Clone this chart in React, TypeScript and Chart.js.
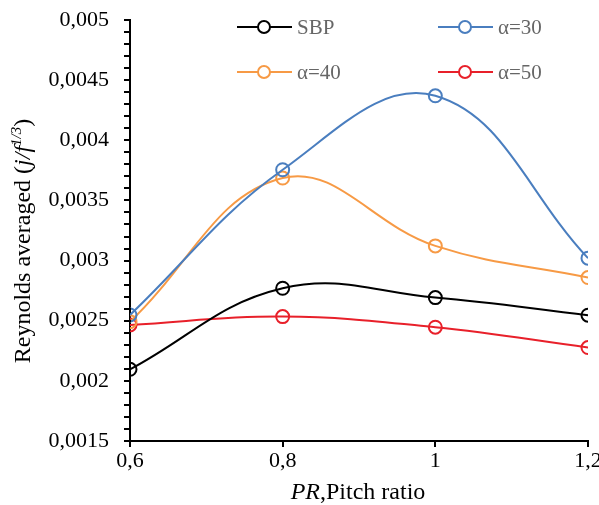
import React, { useEffect, useRef } from "react";
import { Chart, registerables } from "chart.js";

Chart.register(...registerables);

const pitchRatio = [0.6, 0.8, 1.0, 1.2];
const sbp = [0.002096, 0.00277, 0.002692, 0.002546];
const alpha30 = [0.002548, 0.003755, 0.00437, 0.00302];
const alpha40 = [0.002492, 0.003686, 0.003122, 0.002859];
const alpha50 = [0.002465, 0.002534, 0.002446, 0.002277];
const seriesNames = ["SBP", "α=30", "α=40", "α=50"];
const seriesColors = ["#000000", "#4a7ebf", "#f79a45", "#e8202a"];
const yMin = 0.0015;
const yMax = 0.005;
const yMinorStep = 0.0001;
const xMin = 0.6;
const xMax = 1.2;
const xStep = 0.2;

const SERIF = "'Liberation Serif', 'Times New Roman', serif";
const TICK_LEN = 6;

const tickMarksPlugin = {
  id: "tickMarks",
  afterDraw(chart: any) {
    const ctx = chart.ctx;
    const xs = chart.scales.x;
    const ys = chart.scales.y;
    const area = chart.chartArea;
    ctx.save();
    ctx.strokeStyle = "#000000";
    ctx.lineWidth = 2;
    ctx.beginPath();
    for (let v = yMin; v <= yMax + 1e-9; v += yMinorStep) {
      const py = Math.round(ys.getPixelForValue(v));
      ctx.moveTo(area.left - TICK_LEN, py);
      ctx.lineTo(area.left + 1, py);
    }
    for (let v = xMin; v <= xMax + 1e-9; v += xStep) {
      const px = Math.round(xs.getPixelForValue(v));
      ctx.moveTo(px, area.bottom - 1);
      ctx.lineTo(px, area.bottom + TICK_LEN);
    }
    ctx.stroke();
    ctx.restore();
  },
};

const legendPlugin = {
  id: "customLegend",
  afterDraw(chart: any) {
    const ctx = chart.ctx;
    const items = [
      { i: 0, x: 237, y: 27 },
      { i: 1, x: 438, y: 27 },
      { i: 2, x: 237, y: 72 },
      { i: 3, x: 438, y: 72 },
    ];
    ctx.save();
    for (const it of items) {
      const c = seriesColors[it.i];
      ctx.strokeStyle = c;
      ctx.lineWidth = 2;
      ctx.beginPath();
      ctx.moveTo(it.x, it.y);
      ctx.lineTo(it.x + 55, it.y);
      ctx.stroke();
      ctx.beginPath();
      ctx.arc(it.x + 27, it.y, 6, 0, Math.PI * 2);
      ctx.fillStyle = "#ffffff";
      ctx.fill();
      ctx.stroke();
      ctx.fillStyle = "#666666";
      ctx.font = `21px ${SERIF}`;
      ctx.textAlign = "left";
      ctx.textBaseline = "middle";
      ctx.fillText(seriesNames[it.i], it.x + 60, it.y + 1);
    }
    ctx.restore();
  },
};

const titlesPlugin = {
  id: "axisTitles",
  afterDraw(chart: any) {
    const ctx = chart.ctx;
    ctx.save();
    ctx.fillStyle = "#000000";
    ctx.textBaseline = "alphabetic";
    ctx.textAlign = "left";
    const partsX = [
      { t: "PR", f: `italic 24px ${SERIF}` },
      { t: ",Pitch ratio", f: `24px ${SERIF}` },
    ];
    let w = 0;
    for (const p of partsX) {
      ctx.font = p.f;
      w += ctx.measureText(p.t).width;
    }
    let x = 358 - w / 2;
    for (const p of partsX) {
      ctx.font = p.f;
      ctx.fillText(p.t, x, 499);
      x += ctx.measureText(p.t).width;
    }
    const partsY = [
      { t: "Reynolds averaged (", f: `24px ${SERIF}`, dy: 0 },
      { t: "j/f", f: `italic 24px ${SERIF}`, dy: 0 },
      { t: "1/3", f: `italic 15px ${SERIF}`, dy: -9 },
      { t: ")", f: `24px ${SERIF}`, dy: 0 },
    ];
    w = 0;
    for (const p of partsY) {
      ctx.font = p.f;
      w += ctx.measureText(p.t).width;
    }
    ctx.translate(30, 241);
    ctx.rotate(-Math.PI / 2);
    x = -w / 2;
    for (const p of partsY) {
      ctx.font = p.f;
      ctx.fillText(p.t, x, p.dy);
      x += ctx.measureText(p.t).width;
    }
    ctx.restore();
  },
};

export default function App() {
  const ref = useRef<HTMLCanvasElement>(null);
  useEffect(() => {
    if (!ref.current) return;
    const all = [sbp, alpha30, alpha40, alpha50];
    const chart = new Chart(ref.current, {
      type: "line",
      data: {
        datasets: all.map((vals, i) => ({
          label: seriesNames[i],
          data: pitchRatio.map((px, j) => ({ x: px, y: vals[j] })),
          borderColor: seriesColors[i],
          borderWidth: 2,
          pointRadius: 6.5,
          pointBorderWidth: 2,
          pointBackgroundColor: "rgba(0,0,0,0)",
          pointBorderColor: seriesColors[i],
          tension: 0.4,
          fill: false,
        })),
      },
      options: {
        animation: false,
        responsive: false,
        maintainAspectRatio: false,
        layout: { padding: { left: 0, right: 11, top: 20, bottom: 0 } },
        plugins: {
          legend: { display: false },
          tooltip: { enabled: false },
        },
        scales: {
          x: {
            type: "linear",
            min: xMin,
            max: xMax,
            ticks: {
              stepSize: xStep,
              color: "#000000",
              font: { family: SERIF, size: 22 },
              padding: 1,
              callback: (v: any) => String(Math.round(Number(v) * 10) / 10).replace(".", ","),
            },
            grid: {
              display: true,
              drawOnChartArea: false,
              drawTicks: true,
              tickLength: TICK_LEN,
              color: "#000000",
              tickColor: "#000000",
              lineWidth: 2,
              tickWidth: 2,
            },
            border: { display: true, color: "#000000", width: 2 },
            afterFit: (s: any) => {
              s.height = 64;
              s.paddingRight = 0;
              s.paddingLeft = 0;
            },
          },
          y: {
            type: "linear",
            min: yMin,
            max: yMax,
            ticks: {
              stepSize: yMinorStep,
              autoSkip: false,
              color: "#000000",
              font: { family: SERIF, size: 22 },
              padding: 15,
              callback: (v: any) => {
                const n = Math.round(Number(v) * 10000);
                if (n % 5 !== 0) return "";
                return String(n / 10000).replace(".", ",");
              },
            },
            grid: {
              display: true,
              drawOnChartArea: false,
              drawTicks: true,
              tickLength: TICK_LEN,
              color: "#000000",
              tickColor: "#000000",
              lineWidth: 2,
              tickWidth: 2,
            },
            border: { display: true, color: "#000000", width: 2 },
            afterFit: (s: any) => {
              s.width = 130;
              s.paddingTop = 0;
              s.paddingBottom = 0;
            },
          },
        },
      },
      plugins: [tickMarksPlugin, legendPlugin, titlesPlugin],
    });
    return () => chart.destroy();
  }, []);
  return (
    <div style={{ position: "absolute", left: 0, top: 0, width: 599, height: 505, background: "#ffffff" }}>
      <canvas ref={ref} width={599} height={505} style={{ width: 599, height: 505, display: "block" }} />
    </div>
  );
}
